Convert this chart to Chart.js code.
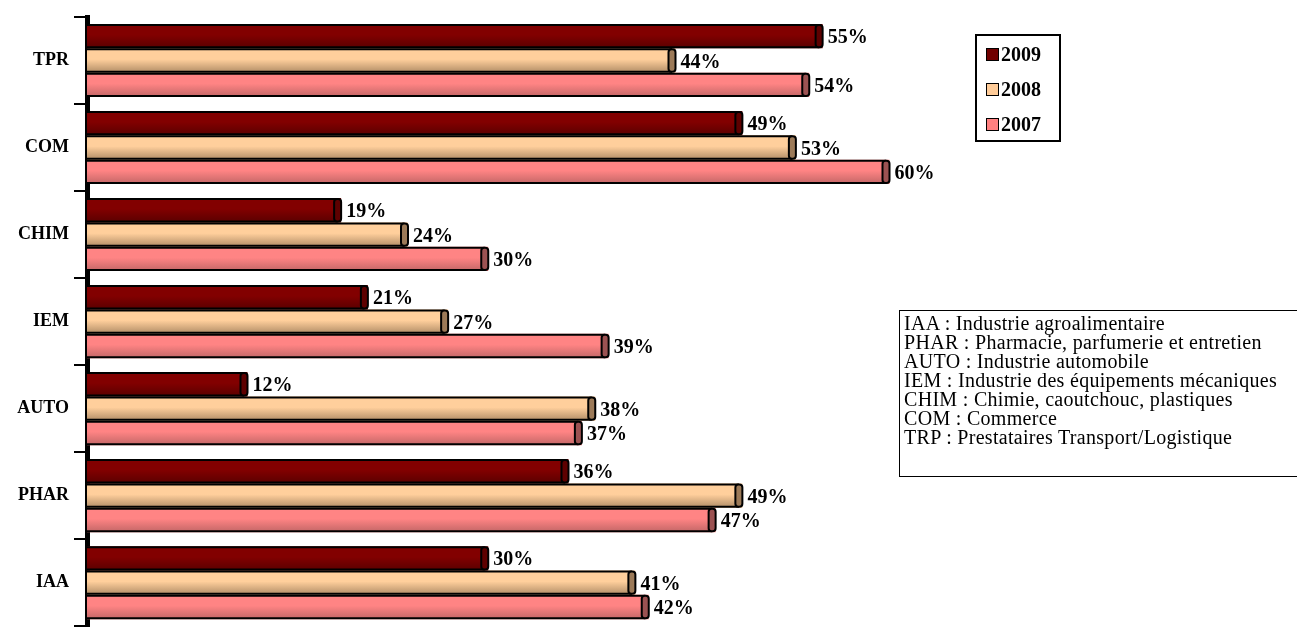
<!DOCTYPE html>
<html lang="fr">
<head>
  <meta charset="UTF-8">
  <title>Taux par secteur 2007-2009</title>
  <script src="https://cdn.jsdelivr.net/npm/chart.js"></script>
  <style>
    body { margin: 0; background: #fff; overflow: hidden; font-family: "Liberation Serif", "Times New Roman", serif; }
    #wrap { position: relative; width: 1298px; height: 642px; }
    #legend { position: absolute; left: 975px; top: 34px; width: 82px; height: 104px; border: 2px solid #000; }
    #legend .item { position: absolute; left: 9px; font-weight: bold; font-size: 20px; line-height: 20px; }
    #legend .sw { display: inline-block; width: 11px; height: 11px; border: 1.5px solid #000; margin-right: 2px; vertical-align: 0px; }
    #notes { position: absolute; left: 899px; top: 310px; width: 398px; height: 167px; border: 1px solid #000; border-right: 0; box-sizing: border-box;
             padding: 3px 0 0 4px; font-size: 20px; line-height: 19px; letter-spacing: 0.3px; white-space: nowrap; }
  </style>
</head>
<body>
<div id="wrap">
  <canvas id="chart" width="1298" height="642"></canvas>
  <div id="legend"></div>
  <div id="notes"></div>
</div>
<script>
  const sectors = ['TPR', 'COM', 'CHIM', 'IEM', 'AUTO', 'PHAR', 'IAA'];
  const years = ['2009', '2008', '2007'];
  const values2009 = [55, 49, 19, 21, 12, 36, 30];
  const values2008 = [44, 53, 24, 27, 38, 49, 41];
  const values2007 = [54, 60, 30, 39, 37, 47, 42];
  const notes = [
    'IAA : Industrie agroalimentaire',
    'PHAR : Pharmacie, parfumerie et entretien',
    'AUTO : Industrie automobile',
    'IEM : Industrie des équipements mécaniques',
    'CHIM : Chimie, caoutchouc, plastiques',
    'COM : Commerce',
    'TRP : Prestataires Transport/Logistique'
  ];

  // colours per series: flat, gradient top, gradient bottom, end cap
  const looks = [
    { flat: '#700000', top: '#820000', bot: '#5a0000', cap: '#5e0000' },
    { flat: '#ffcc99', top: '#ffcf9c', bot: '#b08c66', cap: '#9c7a58' },
    { flat: '#ff8080', top: '#ff8484', bot: '#c26666', cap: '#9c5252' }
  ];

  // 3D cylinder look painted over the bars the library laid out
  const cylinders = {
    id: 'cylinders',
    afterDatasetsDraw(chart) {
      const ctx = chart.ctx;
      chart.data.datasets.forEach((ds, di) => {
        const lk = looks[di];
        chart.getDatasetMeta(di).data.forEach(el => {
          const x0 = el.base, x1 = el.x, h = el.height;
          const y0 = el.y - h / 2, y1 = el.y + h / 2;
          const capW = 7;
          const g = ctx.createLinearGradient(0, y0, 0, y1);
          g.addColorStop(0, lk.top);
          g.addColorStop(0.45, lk.top);
          g.addColorStop(1, lk.bot);
          ctx.save();
          ctx.fillStyle = g;
          ctx.fillRect(x0, y0 + 1, x1 - x0 - capW / 2, h - 2);
          ctx.strokeStyle = '#000';
          ctx.lineWidth = 2;
          ctx.beginPath();
          ctx.moveTo(x0, y0 + 1); ctx.lineTo(x1 - capW / 2, y0 + 1);
          ctx.moveTo(x0, y1 - 1); ctx.lineTo(x1 - capW / 2, y1 - 1);
          ctx.stroke();
          // end cap
          ctx.beginPath();
          ctx.roundRect(x1 - capW, y0 + 1, capW, h - 2, 3);
          ctx.fillStyle = lk.cap;
          ctx.fill();
          ctx.stroke();
          ctx.restore();
        });
      });
      // value labels
      ctx.save();
      ctx.font = 'bold 20px "Liberation Serif"';
      ctx.fillStyle = '#000';
      ctx.textBaseline = 'middle';
      chart.data.datasets.forEach((ds, di) => {
        chart.getDatasetMeta(di).data.forEach((el, i) => {
          ctx.fillText(ds.data[i] + '%', el.x + 5, el.y + 2);
        });
      });
      ctx.restore();
    }
  };

  const seriesValues = [values2009, values2008, values2007];

  new Chart(document.getElementById('chart'), {
    type: 'bar',
    data: {
      labels: sectors,
      datasets: years.map((y, i) => ({
        label: y,
        data: seriesValues[i],
        backgroundColor: looks[i].flat,
        borderColor: '#000',
        borderWidth: 0,
        categoryPercentage: 0.84,
        barPercentage: 1.0
      }))
    },
    options: {
      indexAxis: 'y',
      responsive: false,
      animation: false,
      devicePixelRatio: 1,
      layout: { padding: { top: 17, right: 141, bottom: 0, left: 0 } },
      plugins: { legend: { display: false }, tooltip: { enabled: false } },
      scales: {
        x: { display: false, min: 0, max: 80 },
        y: {
          afterFit(scale) { scale.width = 87; },
          border: { display: true, color: '#000', width: 5 },
          grid: { drawOnChartArea: false, drawTicks: true, tickLength: 13, color: '#000', lineWidth: 2 },
          ticks: { padding: 5, color: '#000', font: { family: 'Liberation Serif', size: 18, weight: 'bold' } }
        }
      }
    },
    plugins: [cylinders]
  });

  const legend = document.getElementById('legend');
  years.forEach((y, i) => {
    const d = document.createElement('div');
    d.className = 'item';
    d.style.top = (8 + i * 35) + 'px';
    d.innerHTML = '<span class="sw" style="background:' + looks[i].flat + '"></span>' + y;
    legend.appendChild(d);
  });
  document.getElementById('notes').innerHTML = notes.map(n => '<div>' + n + '</div>').join('');
</script>
</body>
</html>
